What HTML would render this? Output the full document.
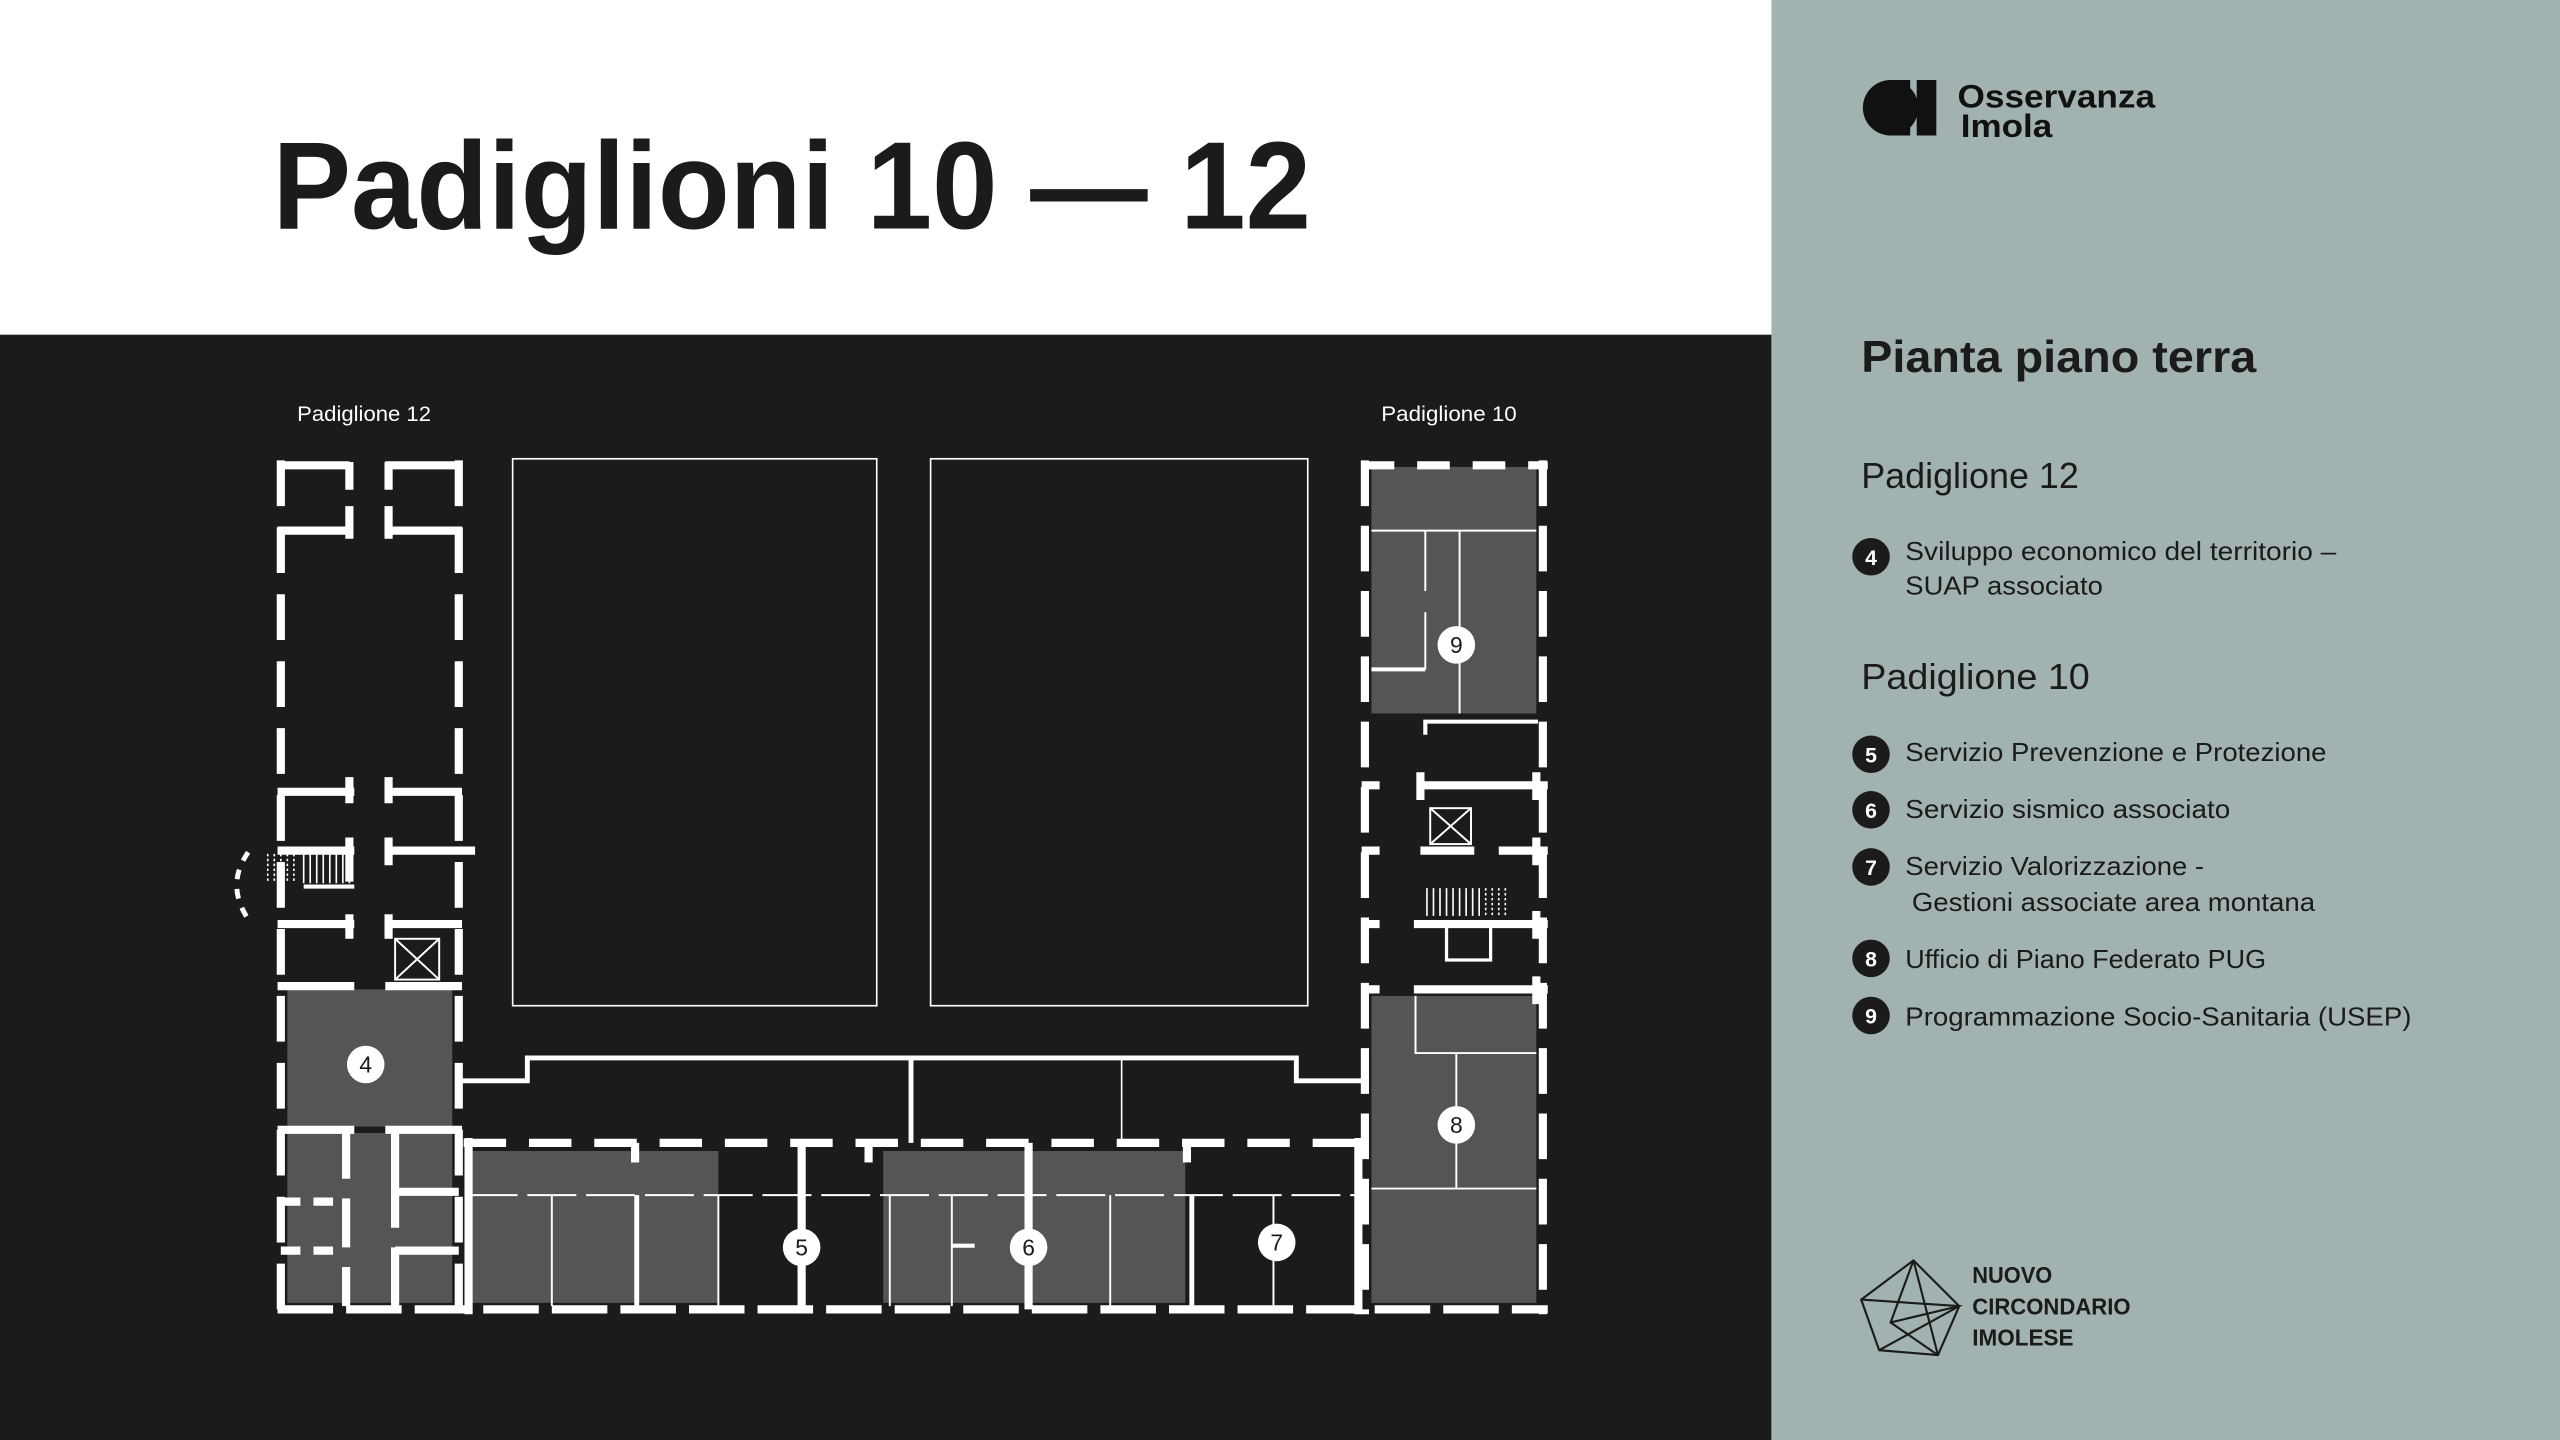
<!DOCTYPE html>
<html><head><meta charset="utf-8"><style>
html,body{margin:0;padding:0;width:2560px;height:1440px;overflow:hidden;background:#fff}
svg{display:block}
text{font-family:"Liberation Sans",sans-serif}
</style></head><body>
<svg width="2560" height="1440" viewBox="0 0 1568 882" xmlns="http://www.w3.org/2000/svg">
<rect x="0" y="0" width="1568" height="882" fill="#fff"/>
<rect x="0" y="205" width="1085" height="677" fill="#1b1b1b"/>
<rect x="1085" y="0" width="483" height="882" fill="#a2b2b0"/>
<text x="167" y="140" font-size="76" font-weight="bold" fill="#1b1b1b" textLength="636" lengthAdjust="spacingAndGlyphs">Padiglioni 10 — 12</text>

<text x="182" y="258" font-size="13" fill="#fff" textLength="82" lengthAdjust="spacingAndGlyphs">Padiglione 12</text>
<text x="846" y="258" font-size="13" fill="#fff" textLength="83" lengthAdjust="spacingAndGlyphs">Padiglione 10</text>

<rect x="314" y="281" width="223" height="335" fill="none" stroke="#fff" stroke-width="1"/>
<rect x="570" y="281" width="231" height="335" fill="none" stroke="#fff" stroke-width="1"/>

<g fill="#555">
<rect x="176" y="606" width="101" height="84"/>
<rect x="176" y="694" width="101" height="104"/>
<rect x="289" y="705" width="151" height="93"/>
<rect x="541" y="705" width="185" height="93"/>
<rect x="840" y="286" width="101" height="151"/>
<rect x="840" y="610" width="101" height="188"/>
</g>

<g stroke="#fff" fill="none">
<g stroke-width="5">
<line x1="172" y1="282" x2="172" y2="805" stroke-dasharray="28 13"/>
<line x1="281" y1="282" x2="281" y2="805" stroke-dasharray="28 13"/>
<line x1="836" y1="282" x2="836" y2="805" stroke-dasharray="28 12"/>
<line x1="945" y1="282" x2="945" y2="805" stroke-dasharray="28 12"/>
<line x1="170" y1="802" x2="948" y2="802" stroke-dasharray="34 8"/>
<line x1="284" y1="700" x2="832" y2="700" stroke-dasharray="26 14"/>
<line x1="287" y1="697" x2="287" y2="805"/>
<line x1="832" y1="697" x2="832" y2="805"/>
<line x1="170" y1="285" x2="214" y2="285"/><line x1="236" y1="285" x2="283" y2="285"/>
<line x1="214" y1="283" x2="214" y2="300"/><line x1="238" y1="283" x2="238" y2="300"/>
<line x1="170" y1="325" x2="214" y2="325"/><line x1="236" y1="325" x2="283" y2="325"/>
<line x1="214" y1="310" x2="214" y2="330"/><line x1="238" y1="310" x2="238" y2="330"/>
<line x1="170" y1="485" x2="217" y2="485"/><line x1="236" y1="485" x2="283" y2="485"/>
<line x1="170" y1="521" x2="217" y2="521"/><line x1="236" y1="521" x2="291" y2="521"/>
<line x1="170" y1="566" x2="217" y2="566"/><line x1="236" y1="566" x2="283" y2="566"/>
<line x1="170" y1="604" x2="217" y2="604"/><line x1="236" y1="604" x2="283" y2="604"/>
<line x1="170" y1="692" x2="217" y2="692"/><line x1="236" y1="692" x2="283" y2="692"/>
<line x1="214" y1="476" x2="214" y2="492"/><line x1="238" y1="476" x2="238" y2="492"/>
<line x1="214" y1="513" x2="214" y2="540"/><line x1="238" y1="513" x2="238" y2="530"/>
<line x1="214" y1="560" x2="214" y2="575"/><line x1="238" y1="560" x2="238" y2="575"/>
<line x1="834" y1="285" x2="948" y2="285" stroke-dasharray="20 14"/>
<line x1="870" y1="481" x2="948" y2="481"/><line x1="834" y1="481" x2="845" y2="481"/>
<line x1="870" y1="521" x2="903" y2="521"/><line x1="918" y1="521" x2="948" y2="521"/><line x1="834" y1="521" x2="845" y2="521"/>
<line x1="866" y1="566" x2="948" y2="566"/><line x1="834" y1="566" x2="845" y2="566"/>
<line x1="866" y1="606" x2="948" y2="606"/><line x1="834" y1="606" x2="845" y2="606"/>
<line x1="870" y1="473" x2="870" y2="490"/><line x1="941" y1="473" x2="941" y2="490"/>
<line x1="941" y1="513" x2="941" y2="530"/><line x1="941" y1="558" x2="941" y2="575"/><line x1="941" y1="598" x2="941" y2="615"/>
<line x1="491" y1="700" x2="491" y2="802"/>
<line x1="630" y1="700" x2="630" y2="802"/>
<line x1="389" y1="700" x2="389" y2="712"/>
<line x1="532" y1="700" x2="532" y2="712"/>
<line x1="727" y1="700" x2="727" y2="712"/>
<line x1="242" y1="692" x2="242" y2="800" stroke-dasharray="60 12"/>
<line x1="212" y1="692" x2="212" y2="800" stroke-dasharray="30 12"/>
<line x1="172" y1="736" x2="212" y2="736" stroke-dasharray="12 8"/>
<line x1="172" y1="766" x2="212" y2="766" stroke-dasharray="12 8"/>
<line x1="242" y1="730" x2="281" y2="730"/><line x1="242" y1="766" x2="281" y2="766"/>
</g>
<g stroke-width="3">
<polyline points="281,662 323,662 323,648 794,648 794,662 836,662"/>
<line x1="558" y1="648" x2="558" y2="700"/>
</g>
<line x1="687" y1="648" x2="687" y2="700" stroke-width="1"/>
<g stroke-width="1.2">
<line x1="287" y1="732" x2="832" y2="732" stroke-dasharray="30 6"/>
<line x1="338" y1="732" x2="338" y2="800"/>
<line x1="390" y1="732" x2="390" y2="800" stroke-width="3"/>
<line x1="440" y1="732" x2="440" y2="800"/>
<line x1="545" y1="732" x2="545" y2="800"/>
<line x1="583" y1="732" x2="583" y2="800"/>
<line x1="583" y1="763" x2="597" y2="763" stroke-width="2.5"/>
<line x1="680" y1="732" x2="680" y2="800"/>
<line x1="730" y1="732" x2="730" y2="800" stroke-width="3"/>
<line x1="780" y1="732" x2="780" y2="800"/>
<line x1="840" y1="325" x2="941" y2="325"/>
<line x1="873" y1="325" x2="873" y2="362"/><line x1="873" y1="375" x2="873" y2="410"/>
<line x1="894" y1="325" x2="894" y2="437"/>
<line x1="840" y1="410" x2="873" y2="410" stroke-width="2.5"/>
<polyline points="873,450 873,442 942,442" stroke-width="2.5"/>
<polyline points="867,610 867,645 941,645"/>
<line x1="892" y1="645" x2="892" y2="728"/>
<line x1="840" y1="728" x2="941" y2="728"/>
<rect x="876" y="495" width="25" height="22"/>
<line x1="876" y1="495" x2="901" y2="517"/><line x1="901" y1="495" x2="876" y2="517"/>
<rect x="242" y="575" width="27" height="25"/>
<line x1="242" y1="575" x2="269" y2="600"/><line x1="269" y1="575" x2="242" y2="600"/>
<polyline points="886,566 886,588 913,588 913,566" stroke-width="2"/>
</g>
<g stroke-width="1">
<path d="M186 523v18M190 523v18M194 523v18M198 523v18M202 523v18M206 523v18M210 523v18M214 523v18"/>
<path d="M164 523v18M168 523v18M172 523v18M176 523v18M180 523v18" stroke-dasharray="1.5 1.5"/>
<line x1="186" y1="543" x2="217" y2="543" stroke-width="2.5"/>
<path d="M874 544v17M878 544v17M882 544v17M886 544v17M890 544v17M894 544v17M898 544v17M902 544v17M906 544v17"/>
<path d="M910 544v17M914 544v17M918 544v17M922 544v17" stroke-dasharray="1.5 1.5"/>
<path d="M152 522 Q138 542 152 563" stroke-width="3" stroke-dasharray="6 6"/>
</g>
</g>

<g font-size="14" text-anchor="middle" fill="#1b1b1b">
<circle cx="224" cy="652" r="11.5" fill="#fff"/><text x="224" y="657">4</text>
<circle cx="892" cy="395" r="11.5" fill="#fff"/><text x="892" y="400">9</text>
<circle cx="892" cy="689" r="11.5" fill="#fff"/><text x="892" y="694">8</text>
<circle cx="491" cy="764" r="11.5" fill="#fff"/><text x="491" y="769">5</text>
<circle cx="630" cy="764" r="11.5" fill="#fff"/><text x="630" y="769">6</text>
<circle cx="782" cy="761" r="11.5" fill="#fff"/><text x="782" y="766">7</text>
</g>

<circle cx="1158" cy="66" r="17" fill="#111"/>
<rect x="1158" y="49" width="12" height="34" fill="#111"/>
<rect x="1174" y="49" width="12" height="34" fill="#111"/>
<text x="1199" y="66" font-size="20" font-weight="bold" fill="#111" textLength="121" lengthAdjust="spacingAndGlyphs">Osservanza</text>
<text x="1201" y="84" font-size="20" font-weight="bold" fill="#111" textLength="56" lengthAdjust="spacingAndGlyphs">Imola</text>

<text x="1140" y="228" font-size="27" font-weight="bold" fill="#1b1b1b" textLength="242" lengthAdjust="spacingAndGlyphs">Pianta piano terra</text>
<text x="1140" y="299" font-size="22" fill="#1b1b1b">Padiglione 12</text>
<text x="1140" y="422" font-size="22" fill="#1b1b1b" textLength="140" lengthAdjust="spacingAndGlyphs">Padiglione 10</text>
<g font-size="16" fill="#1b1b1b" lengthAdjust="spacingAndGlyphs">
<text x="1167" y="343" textLength="264" lengthAdjust="spacingAndGlyphs">Sviluppo economico del territorio –</text>
<text x="1167" y="364" textLength="121" lengthAdjust="spacingAndGlyphs">SUAP associato</text>
<text x="1167" y="466" textLength="258" lengthAdjust="spacingAndGlyphs">Servizio Prevenzione e Protezione</text>
<text x="1167" y="501" textLength="199" lengthAdjust="spacingAndGlyphs">Servizio sismico associato</text>
<text x="1167" y="536" textLength="183" lengthAdjust="spacingAndGlyphs">Servizio Valorizzazione -</text>
<text x="1171" y="558" textLength="247" lengthAdjust="spacingAndGlyphs">Gestioni associate area montana</text>
<text x="1167" y="593" textLength="221" lengthAdjust="spacingAndGlyphs">Ufficio di Piano Federato PUG</text>
<text x="1167" y="628" textLength="310" lengthAdjust="spacingAndGlyphs">Programmazione Socio-Sanitaria (USEP)</text>
</g>
<g fill="#1b1b1b"><circle cx="1146" cy="341" r="11.5"/><circle cx="1146" cy="462" r="11.5"/><circle cx="1146" cy="496" r="11.5"/><circle cx="1146" cy="531" r="11.5"/><circle cx="1146" cy="587" r="11.5"/><circle cx="1146" cy="622" r="11.5"/></g>
<g fill="#fff" font-size="13" font-weight="bold" text-anchor="middle">
<text x="1146" y="346">4</text><text x="1146" y="467">5</text><text x="1146" y="501">6</text><text x="1146" y="536">7</text><text x="1146" y="592">8</text><text x="1146" y="627">9</text>
</g>

<g stroke="#1b1b1b" stroke-width="1.3" fill="none">
<polygon points="1172,772 1200,800 1187,830 1151,827 1140,796"/>
<polyline points="1172,772 1158,810 1187,830"/>
<polyline points="1140,796 1200,800 1151,827"/>
<line x1="1172" y1="772" x2="1187" y2="830"/>
<line x1="1158" y1="810" x2="1200" y2="800"/>
</g>
<g font-family="Liberation Mono,monospace" font-size="14" font-weight="bold" fill="#1b1b1b">
<text x="1208" y="786" textLength="49" lengthAdjust="spacingAndGlyphs">NUOVO</text>
<text x="1208" y="805" textLength="97" lengthAdjust="spacingAndGlyphs">CIRCONDARIO</text>
<text x="1208" y="824" textLength="62" lengthAdjust="spacingAndGlyphs">IMOLESE</text>
</g>
</svg>
</body></html>
